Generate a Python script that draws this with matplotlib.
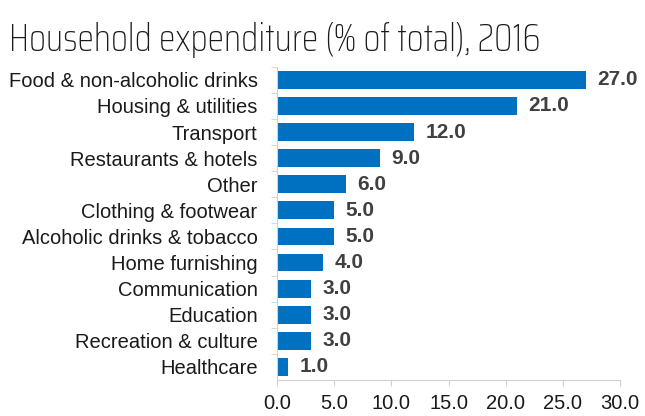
import matplotlib
matplotlib.use("Agg")
import matplotlib.pyplot as plt

categories = ["Food & non-alcoholic drinks", "Housing & utilities", "Transport",
              "Restaurants & hotels", "Other", "Clothing & footwear",
              "Alcoholic drinks & tobacco", "Home furnishing", "Communication",
              "Education", "Recreation & culture", "Healthcare"]
values = [27.0, 21.0, 12.0, 9.0, 6.0, 5.0, 5.0, 4.0, 3.0, 3.0, 3.0, 1.0]
xticks = [0, 5, 10, 15, 20, 25, 30]

plt.rcParams['font.family'] = ['Liberation Sans', 'DejaVu Sans']

fig = plt.figure(figsize=(6.45, 4.16), dpi=100)
ax = fig.add_axes([0.4295, 0.0865, 0.532, 0.753])

ypos = list(range(len(categories)))
ax.barh(ypos, values, height=0.68, color='#0070C0')
ax.set_ylim(len(categories) - 0.5, -0.5)
ax.set_xlim(0, 30)

for y, v in zip(ypos, values):
    ax.text(v + 1.0, y, f"{v:.1f}", va='center', ha='left', fontsize=15,
            fontweight='bold', color='#404040')

ax.set_yticks(ypos)
ax.set_yticklabels(categories, fontsize=14.5, color='#1a1a1a')
ax.set_yticks([y + 0.5 for y in ypos[:-1]] + [-0.5], minor=True)
ax.tick_params(axis='y', which='major', length=0, pad=14)
ax.tick_params(axis='y', which='minor', length=4, color='#d0d0d0', direction='out')

ax.set_xticks(xticks)
ax.set_xticklabels([f"{t:.1f}" for t in xticks], fontsize=14.5, color='#1a1a1a')
ax.tick_params(axis='x', length=4, color='#d0d0d0', direction='out', pad=6)

for s in ['top', 'right']:
    ax.spines[s].set_visible(False)
for s in ['left', 'bottom']:
    ax.spines[s].set_color('#d0d0d0')

title = fig.text(0.014, 0.905, "Household expenditure (% of total), 2016", fontsize=36,
                 family=['Saira Extra Condensed', 'Saira Condensed',
                         'Fira Sans Extra Condensed', 'DejaVu Sans'],
                 fontweight=100, va='center', ha='left', color='#1a1a1a')

# fit the title to the width it has in the original (about 530 px)
fig.canvas.draw()
w = title.get_window_extent().width
title.set_fontsize(36 * 530 / w)

fig.savefig("out.png", dpi=100)
